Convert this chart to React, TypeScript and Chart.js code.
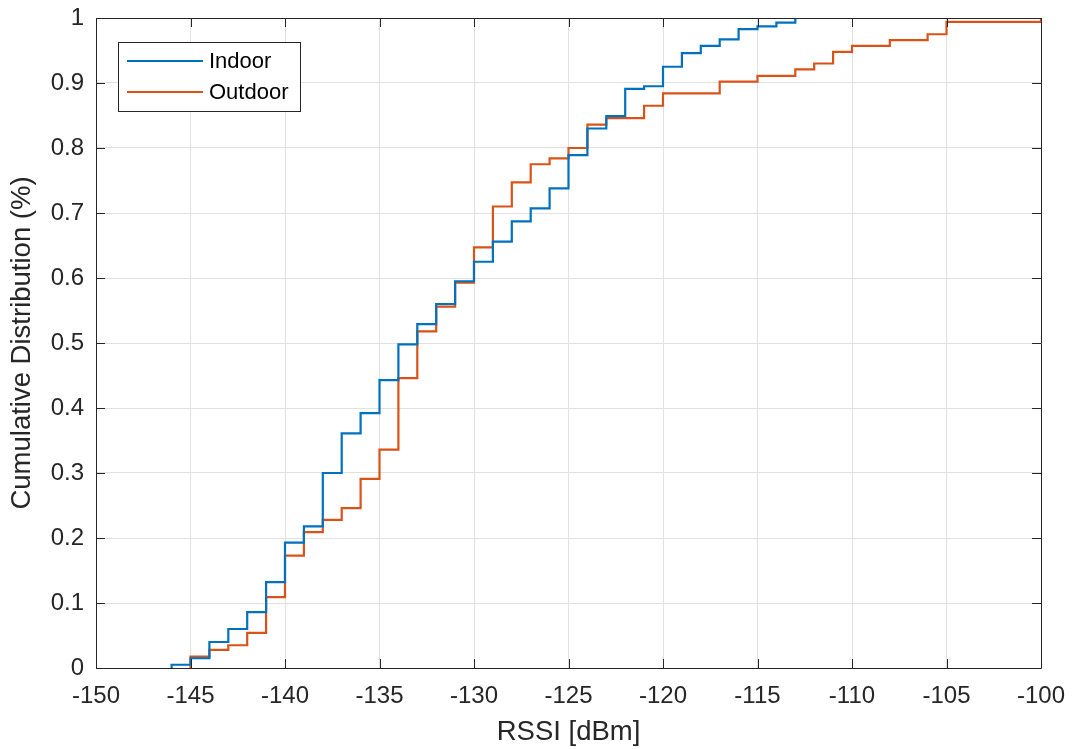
import React, { useEffect, useRef } from "react";
import { Chart, registerables } from "chart.js";

Chart.register(...registerables);

// RSSI [dBm] where each empirical CDF steps, and the CDF value reached there
const indoorRssi = [-146, -146, -145, -144, -143, -142, -141, -140, -139, -138, -137, -136, -135, -134, -133, -132, -131, -130, -129, -128, -127, -126, -125, -124, -123, -122, -121, -120, -119, -118, -117, -116, -115, -114, -113];
const indoorCdf = [0, 0.005, 0.015, 0.040, 0.060, 0.086, 0.132, 0.193, 0.218, 0.300, 0.361, 0.392, 0.443, 0.498, 0.529, 0.560, 0.595, 0.625, 0.656, 0.687, 0.707, 0.738, 0.789, 0.830, 0.849, 0.891, 0.895, 0.925, 0.946, 0.957, 0.967, 0.983, 0.987, 0.993, 1.0];

const outdoorRssi = [-145, -145, -144, -143, -142, -141, -140, -139, -138, -137, -136, -135, -134, -133, -132, -131, -130, -129, -128, -127, -126, -125, -124, -123, -121, -120, -117, -115, -113, -112, -111, -110, -108, -106, -105, -100];
const outdoorCdf = [0, 0.0175, 0.028, 0.035, 0.054, 0.109, 0.173, 0.209, 0.228, 0.246, 0.291, 0.336, 0.446, 0.518, 0.556, 0.593, 0.647, 0.710, 0.747, 0.775, 0.784, 0.800, 0.836, 0.846, 0.865, 0.884, 0.902, 0.911, 0.921, 0.930, 0.948, 0.957, 0.966, 0.975, 0.994, 1.0];

const seriesLabels = ["Indoor", "Outdoor"];
const seriesColors = ["#0072BD", "#D95319"];

const xMin = -150;
const xMax = -100;
const xStep = 5;
const yMin = 0;
const yMax = 1;
const yStep = 0.1;

const xTitle = "RSSI [dBm]";
const yTitle = "Cumulative Distribution (%)";

const FONT = "'Liberation Sans', Arial, Helvetica, sans-serif";
const INK = "#262626";

const boxPlugin = {
  id: "matlabBox",
  afterDatasetsDraw(chart: any) {
    const { ctx, chartArea } = chart;
    const { left, right, top, bottom } = chartArea;
    const xs = chart.scales.x;
    const ys = chart.scales.y;
    const tl = 9;
    ctx.save();
    ctx.strokeStyle = INK;
    ctx.lineWidth = 1;
    ctx.beginPath();
    ctx.rect(Math.round(left) + 0.5, Math.round(top) + 0.5, Math.round(right - left), Math.round(bottom - top));
    ctx.stroke();
    ctx.beginPath();
    xs.ticks.forEach((t: any) => {
      const px = Math.round(xs.getPixelForValue(t.value)) + 0.5;
      ctx.moveTo(px, bottom);
      ctx.lineTo(px, bottom - tl);
      ctx.moveTo(px, top);
      ctx.lineTo(px, top + tl);
    });
    ys.ticks.forEach((t: any) => {
      const py = Math.round(ys.getPixelForValue(t.value)) + 0.5;
      ctx.moveTo(left, py);
      ctx.lineTo(left + tl, py);
      ctx.moveTo(right, py);
      ctx.lineTo(right - tl, py);
    });
    ctx.stroke();

    // legend (inside, north-west)
    const lx = 118.5;
    const ly = 42.5;
    const lw = 182;
    const lh = 69;
    ctx.fillStyle = "#ffffff";
    ctx.fillRect(lx, ly, lw, lh);
    ctx.strokeStyle = INK;
    ctx.lineWidth = 1;
    ctx.strokeRect(lx, ly, lw, lh);
    ctx.font = `22px ${FONT}`;
    ctx.textBaseline = "middle";
    ctx.textAlign = "left";
    chart.data.datasets.forEach((ds: any, i: number) => {
      const cy = 61 + i * 31;
      ctx.strokeStyle = ds.borderColor;
      ctx.lineWidth = 2;
      ctx.beginPath();
      ctx.moveTo(127, cy);
      ctx.lineTo(203, cy);
      ctx.stroke();
      ctx.fillStyle = "#000000";
      ctx.fillText(ds.label, 209, cy + 1);
    });
    ctx.restore();
  },
};

const zeroPadding = (s: any) => {
  s.paddingTop = 0;
  s.paddingBottom = 0;
  s.paddingLeft = 0;
  s.paddingRight = 0;
};

export default function App() {
  const canvasRef = useRef<HTMLCanvasElement | null>(null);

  useEffect(() => {
    if (!canvasRef.current) return;
    const chart = new Chart(canvasRef.current, {
      type: "line",
      data: {
        datasets: [
          {
            label: seriesLabels[0],
            data: indoorRssi.map((x, i) => ({ x, y: indoorCdf[i] })),
            borderColor: seriesColors[0],
            backgroundColor: seriesColors[0],
            borderWidth: 2.2,
            pointRadius: 0,
            stepped: "before",
            fill: false,
          },
          {
            label: seriesLabels[1],
            data: outdoorRssi.map((x, i) => ({ x, y: outdoorCdf[i] })),
            borderColor: seriesColors[1],
            backgroundColor: seriesColors[1],
            borderWidth: 2.2,
            pointRadius: 0,
            stepped: "before",
            fill: false,
          },
        ],
      },
      options: {
        animation: false,
        responsive: false,
        maintainAspectRatio: false,
        layout: { padding: { top: 18, right: 33, left: 0, bottom: 0 } },
        plugins: {
          legend: { display: false },
          tooltip: { enabled: false },
        },
        scales: {
          x: {
            type: "linear",
            min: xMin,
            max: xMax,
            border: { display: false },
            grid: { color: "#e1e1e1", lineWidth: 1, drawTicks: false },
            ticks: {
              stepSize: xStep,
              padding: 14,
              color: INK,
              font: { family: FONT, size: 24 },
              maxRotation: 0,
              autoSkip: false,
              callback: (v: any) => String(v),
            },
            title: {
              display: true,
              text: xTitle,
              color: INK,
              font: { family: FONT, size: 27.5, lineHeight: 1.2 },
              padding: { top: 0, bottom: 0 },
            },
            afterFit: (s: any) => {
              s.height = 81;
              zeroPadding(s);
            },
          },
          y: {
            type: "linear",
            min: yMin,
            max: yMax,
            border: { display: false },
            grid: { color: "#e1e1e1", lineWidth: 1, drawTicks: false },
            ticks: {
              stepSize: yStep,
              padding: 12,
              color: INK,
              font: { family: FONT, size: 24 },
              callback: (v: any) => String(Number(Number(v).toFixed(1))),
            },
            title: {
              display: true,
              text: yTitle,
              color: INK,
              font: { family: FONT, size: 27.5, lineHeight: 1.2 },
              padding: { top: 5.5, bottom: 0 },
            },
            afterFit: (s: any) => {
              s.width = 96;
              zeroPadding(s);
            },
          },
        },
      },
      plugins: [boxPlugin],
    } as any);
    return () => chart.destroy();
  }, []);

  return (
    <div style={{ position: "absolute", left: 0, top: 0, width: 1074, height: 749, background: "#ffffff" }}>
      <canvas ref={canvasRef} width={1074} height={749} style={{ width: 1074, height: 749, display: "block" }} />
    </div>
  );
}
